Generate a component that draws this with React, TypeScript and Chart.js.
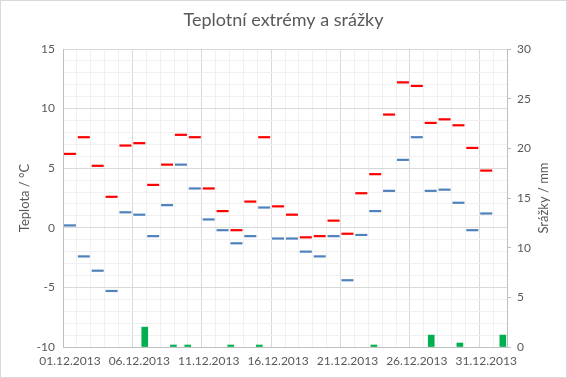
import React, { useEffect, useRef } from "react";
import { Chart, registerables } from "chart.js";

Chart.register(...registerables);

const dates = [
  "01.12.2013", "02.12.2013", "03.12.2013", "04.12.2013", "05.12.2013",
  "06.12.2013", "07.12.2013", "08.12.2013", "09.12.2013", "10.12.2013",
  "11.12.2013", "12.12.2013", "13.12.2013", "14.12.2013", "15.12.2013",
  "16.12.2013", "17.12.2013", "18.12.2013", "19.12.2013", "20.12.2013",
  "21.12.2013", "22.12.2013", "23.12.2013", "24.12.2013", "25.12.2013",
  "26.12.2013", "27.12.2013", "28.12.2013", "29.12.2013", "30.12.2013",
  "31.12.2013",
];

const tMax = [
  6.2, 7.6, 5.2, 2.6, 6.9, 7.1, 3.6, 5.3, 7.8, 7.6,
  3.3, 1.4, -0.2, 2.2, 7.6, 1.8, 1.1, -0.8, -0.7, 0.6,
  -0.5, 2.9, 4.5, 9.5, 12.2, 11.9, 8.8, 9.1, 8.6, 6.7,
  4.8,
];

const tMin = [
  0.2, -2.4, -3.6, -5.3, 1.3, 1.1, -0.7, 1.9, 5.3, 3.3,
  0.7, -0.2, -1.3, -0.7, 1.7, -0.9, -0.9, -2.0, -2.4, -0.7,
  -4.4, -0.6, 1.4, 3.1, 5.7, 7.6, 3.1, 3.2, 2.1, -0.2,
  1.2,
];

const precip = [
  0, 0, 0, 0, 0, 2.0, 0, 0.2, 0.2, 0,
  0, 0.2, 0, 0.2, 0, 0, 0, 0, 0, 0,
  0, 0.2, 0, 0, 0, 1.2, 0, 0.4, 0, 0,
  1.2,
];

const FONT = "Lato";
const TEXT = "#595959";

const frameAndTitles = {
  id: "frameAndTitles",
  afterDraw(chart: any) {
    const ctx = chart.ctx;
    const area = chart.chartArea;
    const midY = (area.top + area.bottom) / 2;
    ctx.save();
    ctx.fillStyle = TEXT;
    ctx.font = `13px ${FONT}`;
    ctx.textAlign = "center";
    ctx.textBaseline = "middle";
    ctx.translate(25, midY);
    ctx.rotate(-Math.PI / 2);
    ctx.fillText("Teplota / °C", 0, 0);
    ctx.restore();
    ctx.save();
    ctx.fillStyle = TEXT;
    ctx.font = `13px ${FONT}`;
    ctx.textAlign = "center";
    ctx.textBaseline = "middle";
    ctx.translate(544, midY);
    ctx.rotate(-Math.PI / 2);
    ctx.fillText("Srážky / mm", 0, 0);
    ctx.restore();
    ctx.save();
    ctx.strokeStyle = "#d9d9d9";
    ctx.lineWidth = 1;
    ctx.strokeRect(0.5, 0.5, chart.width - 1, chart.height - 1);
    ctx.restore();
  },
};

export default function App() {
  const ref = useRef<HTMLCanvasElement>(null);

  useEffect(() => {
    if (!ref.current) return;
    const chart = new Chart(ref.current, {
      type: "bar",
      data: {
        labels: dates,
        datasets: [
          {
            type: "scatter",
            label: "Max",
            data: dates.map((_, i) => ({ x: i + 1, y: tMax[i] })),
            xAxisID: "x",
            yAxisID: "y",
            pointStyle: "line",
            pointRadius: 6,
            pointBorderWidth: 2.2,
            borderColor: "#ff0000",
            backgroundColor: "#ff0000",
            showLine: false,
          } as any,
          {
            type: "scatter",
            label: "Min",
            data: dates.map((_, i) => ({ x: i + 1, y: tMin[i] })),
            xAxisID: "x",
            yAxisID: "y",
            pointStyle: "line",
            pointRadius: 6,
            pointBorderWidth: 2.2,
            borderColor: "#4f81bd",
            backgroundColor: "#4f81bd",
            showLine: false,
          } as any,
          {
            type: "bar",
            label: "Srážky",
            data: precip,
            xAxisID: "x2",
            yAxisID: "y2",
            backgroundColor: (c: any) => (c.raw > 0 ? "#00b050" : "rgba(0,0,0,0)"),
            borderWidth: 0,
            barThickness: 6,
          } as any,
        ],
      },
      options: {
        responsive: false,
        animation: false,
        devicePixelRatio: 1,
        layout: { padding: 0 },
        plugins: {
          legend: { display: false },
          tooltip: { enabled: false },
          title: {
            display: true,
            text: "Teplotní extrémy a srážky",
            color: TEXT,
            font: { family: FONT, size: 18, weight: "normal", lineHeight: 1.2 },
            padding: { top: 9, bottom: 18.4 },
          },
        },
        scales: {
          x: {
            type: "linear",
            position: "bottom",
            min: 1,
            max: 32,
            afterFit: (s: any) => { s.height = 31; },
            ticks: {
              stepSize: 1,
              autoSkip: false,
              maxRotation: 0,
              minRotation: 0,
              padding: 7,
              color: TEXT,
              font: { family: FONT, size: 12 },
              callback: (v: any) => {
                const n = Number(v);
                return (n - 1) % 5 === 0 && n <= dates.length ? dates[n - 1] : "";
              },
            },
            grid: {
              drawTicks: false,
              color: (c: any) => {
                const n = c.tick ? c.tick.value : 0;
                return (n - 1) % 5 === 0 ? "#d9d9d9" : "#f0f0f0";
              },
            },
            border: { color: "#bfbfbf" },
          },
          x2: {
            type: "category",
            labels: dates,
            offset: true,
            display: false,
            grid: { display: false },
          },
          y: {
            type: "linear",
            position: "left",
            min: -10,
            max: 15,
            afterFit: (s: any) => { s.width = 63; },
            ticks: {
              stepSize: 1,
              autoSkip: false,
              padding: 8,
              color: TEXT,
              font: { family: FONT, size: 12 },
              callback: (v: any) => (Number(v) % 5 === 0 ? String(v) : ""),
            },
            grid: {
              drawTicks: false,
              color: (c: any) => {
                const n = c.tick ? c.tick.value : 0;
                return n % 5 === 0 ? "#d9d9d9" : "#f0f0f0";
              },
            },
            border: { color: "#bfbfbf" },
          },
          y2: {
            type: "linear",
            position: "right",
            min: 0,
            max: 30,
            afterFit: (s: any) => { s.width = 60; },
            ticks: {
              stepSize: 5,
              padding: 6,
              color: TEXT,
              font: { family: FONT, size: 12 },
            },
            grid: {
              drawOnChartArea: false,
              drawTicks: true,
              tickLength: 4,
              color: "#bfbfbf",
            },
            border: { color: "#bfbfbf" },
          },
        },
      } as any,
      plugins: [frameAndTitles],
    });
    return () => chart.destroy();
  }, []);

  return (
    <div style={{ position: "absolute", left: 0, top: 0, width: 567, height: 378, background: "#fff" }}>
      <canvas ref={ref} width={567} height={378} style={{ display: "block" }} />
    </div>
  );
}
